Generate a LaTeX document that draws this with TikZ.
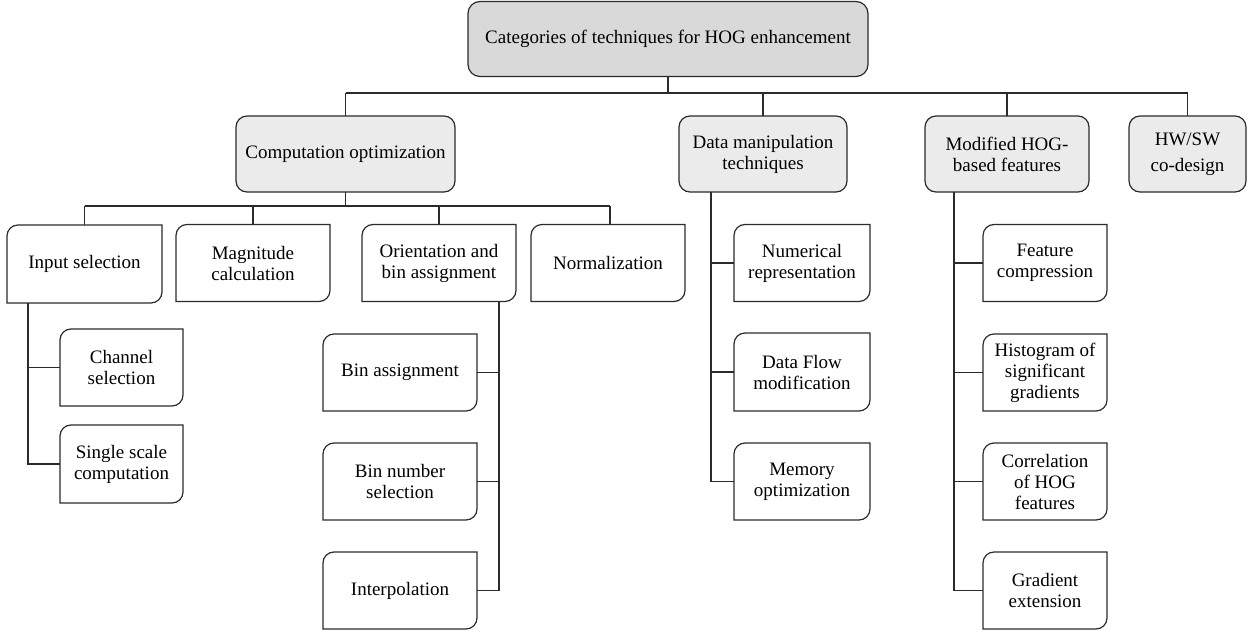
\documentclass[tikz,border=0pt]{standalone}
\usepackage{fontspec}
\setmainfont{Liberation Serif}
\definecolor{rootfill}{HTML}{D9D9D9}
\definecolor{catfill}{HTML}{EBEBEB}
\definecolor{ink}{HTML}{2B2B2B}
\tikzset{
  txt/.style={align=center, inner sep=0pt, outer sep=0pt,
    font=\fontsize{19}{21}\selectfont},
  rootbox/.style={txt, draw=ink, line width=1.2pt, fill=rootfill, rounded corners=12pt},
  catbox/.style={txt, draw=ink, line width=1.2pt, fill=catfill, rounded corners=11pt},
  leafbox/.style={txt},
  link/.style={draw=ink, line width=1.2pt},
}
% outline with rounded top-left and bottom-right corners only (radius 11pt)
\newcommand\leafoutline[1]{%
  \draw[link]
    ([yshift=-11pt]#1.north west)
      .. controls ([yshift=-4.9pt]#1.north west) and ([xshift=4.9pt]#1.north west)
      .. ([xshift=11pt]#1.north west)
    -- (#1.north east)
    -- ([yshift=11pt]#1.south east)
      .. controls ([yshift=4.9pt]#1.south east) and ([xshift=-4.9pt]#1.south east)
      .. ([xshift=-11pt]#1.south east)
    -- (#1.south west) -- cycle;}
\begin{document}
\begin{tikzpicture}[x=1pt, y=-1pt]
\useasboundingbox (0,0) rectangle (1253,635);

% top level
\node[rootbox, minimum width=400pt, minimum height=75pt] (root) at (668,39)
  {Categories of techniques for HOG enhancement};

% categories
\node[catbox, minimum width=219pt, minimum height=76pt] (comp) at (345.5,154) {Computation optimization};
\node[catbox, minimum width=168pt, minimum height=76pt] (data) at (763,154) {Data manipulation\\techniques};
\node[catbox, minimum width=164pt, minimum height=76pt] (mod) at (1007,154) {Modified HOG-\\based features};
\node[catbox, minimum width=117pt, minimum height=76pt, font=\fontsize{19}{26}\selectfont] (hw) at (1187.5,154) {HW/SW\\co-design};

% computation optimization branches
\node[leafbox, minimum width=155pt, minimum height=78pt] (inp) at (84.5,264) {Input selection};
\node[leafbox, minimum width=154pt, minimum height=77pt] (mag) at (253,263) {Magnitude\\calculation};
\node[leafbox, minimum width=154pt, minimum height=77pt] (ori) at (439,263) {Orientation and\\bin assignment};
\node[leafbox, minimum width=154pt, minimum height=77pt] (norm) at (608,263) {Normalization};

\node[leafbox, minimum width=123pt, minimum height=77pt] (chan) at (121.5,367.5) {Channel\\selection};
\node[leafbox, minimum width=123pt, minimum height=78pt] (sing) at (121.5,464) {Single scale\\computation};

\node[leafbox, minimum width=154pt, minimum height=77pt] (bina) at (400,372.5) {Bin assignment};
\node[leafbox, minimum width=154pt, minimum height=77pt] (binn) at (400,481.5) {Bin number\\selection};
\node[leafbox, minimum width=154pt, minimum height=77pt] (intp) at (400,590.5) {Interpolation};

% data manipulation branches
\node[leafbox, minimum width=136pt, minimum height=77pt] (num) at (802,263) {Numerical\\representation};
\node[leafbox, minimum width=136pt, minimum height=78pt] (dflow) at (802,372) {Data Flow\\modification};
\node[leafbox, minimum width=136pt, minimum height=77pt] (mem) at (802,481.5) {Memory\\optimization};

% modified HOG-based feature branches
\node[leafbox, minimum width=124pt, minimum height=77pt] (feat) at (1045,263) {Feature\\compression};
\node[leafbox, minimum width=124pt, minimum height=77pt] (hist) at (1045,372.5) {Histogram of\\significant\\gradients};
\node[leafbox, minimum width=124pt, minimum height=77pt] (corr) at (1045,481.5) {Correlation\\of HOG\\features};
\node[leafbox, minimum width=124pt, minimum height=77pt] (grad) at (1045,590.5) {Gradient\\extension};

\foreach \n in {inp,mag,ori,norm,chan,sing,bina,binn,intp,num,dflow,mem,feat,hist,corr,grad}
  {\leafoutline{\n}}

% bus levels and trunks
\coordinate (bus1) at (0,93);
\coordinate (bus2) at (0,206);
\coordinate (tin) at (28,0);
\coordinate (tor) at (499,0);
\coordinate (tda) at (711,0);
\coordinate (tmo) at (954,0);

\draw[link] (root.south) -- (root.south |- bus1);
\draw[link] (comp.north |- bus1) -- (hw.north |- bus1);
\foreach \n in {comp,data,mod,hw} {\draw[link] (\n.north |- bus1) -- (\n.north);}

\draw[link] (comp.south) -- (comp.south |- bus2);
\draw[link] (inp.north |- bus2) -- ([xshift=2pt]norm.north |- bus2);
\foreach \n in {inp,mag,ori} {\draw[link] (\n.north |- bus2) -- (\n.north);}
\draw[link] ([xshift=2pt]norm.north |- bus2) -- ([xshift=2pt]norm.north);

\draw[link] (inp.south -| tin) |- (sing.west);
\draw[link] (chan.west -| tin) -- (chan.west);

\draw[link] (ori.south -| tor) |- (intp.east);
\draw[link] (bina.east) -- (bina.east -| tor);
\draw[link] (binn.east) -- (binn.east -| tor);

\draw[link] (data.south -| tda) |- (mem.west);
\draw[link] (num.west -| tda) -- (num.west);
\draw[link] (dflow.west -| tda) -- (dflow.west);

\draw[link] (mod.south -| tmo) |- (grad.west);
\draw[link] (feat.west -| tmo) -- (feat.west);
\draw[link] (hist.west -| tmo) -- (hist.west);
\draw[link] (corr.west -| tmo) -- (corr.west);
\end{tikzpicture}
\end{document}
